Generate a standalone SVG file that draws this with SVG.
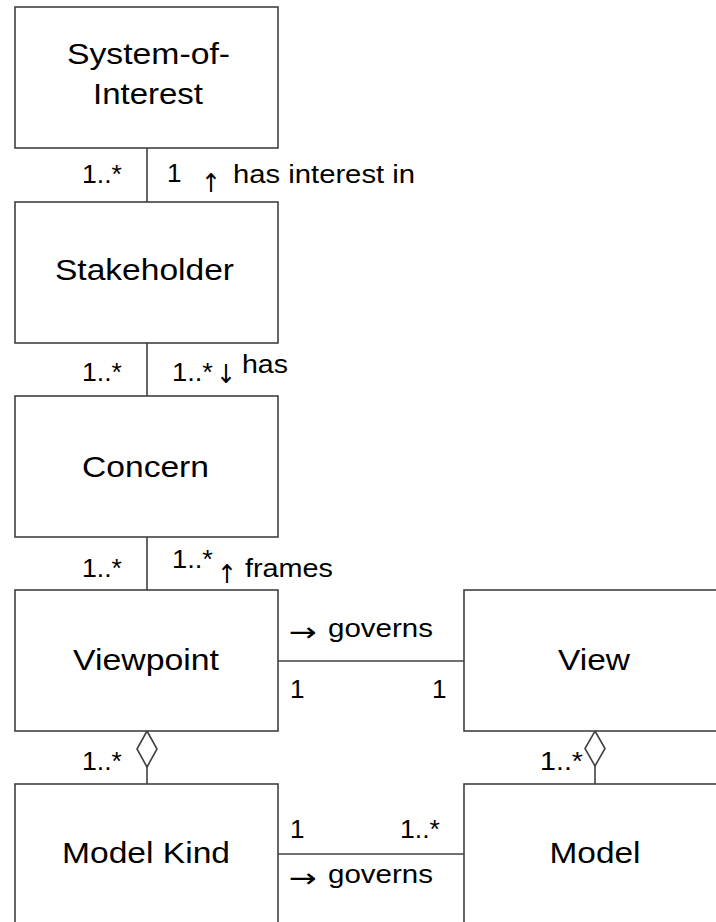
<svg xmlns="http://www.w3.org/2000/svg" width="716" height="922" viewBox="0 0 716 922">
  <style>
    .box { fill: #ffffff; stroke: #404040; stroke-width: 1.6; }
    .edge { fill: none; stroke: #404040; stroke-width: 1.6; }
    .agg { fill: #ffffff; stroke: #404040; stroke-width: 1.6; }
    .name { font-family: "Liberation Sans", Arial, sans-serif; font-size: 30px; fill: #000; text-anchor: middle; }
    .lbl { font-family: "Liberation Sans", Arial, sans-serif; font-size: 26px; fill: #000; }
    .arr { font-family: "DejaVu Sans", sans-serif; font-size: 26px; fill: #000; }
    .end { text-anchor: end; }
  </style>
  <rect width="716" height="922" fill="#ffffff"/>

  <!-- connectors -->
  <g id="connectors">
    <line class="edge" x1="147" y1="148" x2="147" y2="202"/>
    <line class="edge" x1="147" y1="343" x2="147" y2="396"/>
    <line class="edge" x1="147" y1="537" x2="147" y2="590"/>
    <line class="edge" x1="278" y1="661" x2="464" y2="661"/>
    <line class="edge" x1="278" y1="854" x2="464" y2="854"/>
    <line class="edge" x1="147" y1="767" x2="147" y2="784"/>
    <line class="edge" x1="595" y1="766" x2="595" y2="784"/>
    <polygon class="agg" points="147,731 157,749 147,767 137,749"/>
    <polygon class="agg" points="595,731 605,748.5 595,766 585,748.5"/>

    <!-- System-of-Interest / Stakeholder -->
    <text class="lbl end" x="122" y="183" textLength="40" lengthAdjust="spacingAndGlyphs">1..*</text>
    <text class="lbl" x="167" y="182">1</text>
    <text class="arr" x="201" y="192" textLength="20" lengthAdjust="spacingAndGlyphs">↑</text>
    <text class="lbl" x="233" y="183" textLength="182" lengthAdjust="spacingAndGlyphs">has interest in</text>

    <!-- Stakeholder / Concern -->
    <text class="lbl end" x="122" y="381" textLength="40" lengthAdjust="spacingAndGlyphs">1..*</text>
    <text class="lbl" x="172" y="381" textLength="41" lengthAdjust="spacingAndGlyphs">1..*</text>
    <text class="arr" x="216" y="383" textLength="20" lengthAdjust="spacingAndGlyphs">↓</text>
    <text class="lbl" x="242" y="373" textLength="46" lengthAdjust="spacingAndGlyphs">has</text>

    <!-- Concern / Viewpoint -->
    <text class="lbl end" x="122" y="577" textLength="40" lengthAdjust="spacingAndGlyphs">1..*</text>
    <text class="lbl" x="172" y="568" textLength="41" lengthAdjust="spacingAndGlyphs">1..*</text>
    <text class="arr" x="217" y="583" textLength="20" lengthAdjust="spacingAndGlyphs">↑</text>
    <text class="lbl" x="245" y="577" textLength="88" lengthAdjust="spacingAndGlyphs">frames</text>

    <!-- Viewpoint / View -->
    <text class="arr" x="289" y="641" textLength="28" lengthAdjust="spacingAndGlyphs">→</text>
    <text class="lbl" x="328" y="637" textLength="105" lengthAdjust="spacingAndGlyphs">governs</text>
    <text class="lbl" x="290" y="698">1</text>
    <text class="lbl" x="432" y="698">1</text>

    <!-- aggregations -->
    <text class="lbl end" x="122" y="770" textLength="40" lengthAdjust="spacingAndGlyphs">1..*</text>
    <text class="lbl end" x="583" y="770" textLength="43" lengthAdjust="spacingAndGlyphs">1..*</text>

    <!-- Model Kind / Model -->
    <text class="lbl" x="290" y="838">1</text>
    <text class="lbl" x="400" y="838" textLength="40" lengthAdjust="spacingAndGlyphs">1..*</text>
    <text class="arr" x="289" y="887" textLength="28" lengthAdjust="spacingAndGlyphs">→</text>
    <text class="lbl" x="328" y="883" textLength="105" lengthAdjust="spacingAndGlyphs">governs</text>
  </g>

  <g id="system-of-interest">
    <rect class="box" x="15" y="7" width="263" height="141"/>
    <text class="name" x="148.5" y="64" textLength="163" lengthAdjust="spacingAndGlyphs">System-of-</text>
    <text class="name" x="148" y="104" textLength="110" lengthAdjust="spacingAndGlyphs">Interest</text>
  </g>
  <g id="stakeholder">
    <rect class="box" x="15" y="202" width="263" height="141"/>
    <text class="name" x="144.5" y="280" textLength="179" lengthAdjust="spacingAndGlyphs">Stakeholder</text>
  </g>
  <g id="concern">
    <rect class="box" x="15" y="396" width="263" height="141"/>
    <text class="name" x="145.5" y="477" textLength="127" lengthAdjust="spacingAndGlyphs">Concern</text>
  </g>
  <g id="viewpoint">
    <rect class="box" x="15" y="590" width="263" height="141"/>
    <text class="name" x="146" y="670" textLength="146" lengthAdjust="spacingAndGlyphs">Viewpoint</text>
  </g>
  <g id="view">
    <rect class="box" x="464" y="590" width="263" height="141"/>
    <text class="name" x="594" y="670" textLength="72" lengthAdjust="spacingAndGlyphs">View</text>
  </g>
  <g id="model-kind">
    <rect class="box" x="15" y="784" width="263" height="141"/>
    <text class="name" x="146" y="863" textLength="168" lengthAdjust="spacingAndGlyphs">Model Kind</text>
  </g>
  <g id="model">
    <rect class="box" x="464" y="784" width="263" height="141"/>
    <text class="name" x="595" y="863" textLength="91" lengthAdjust="spacingAndGlyphs">Model</text>
  </g>
</svg>
